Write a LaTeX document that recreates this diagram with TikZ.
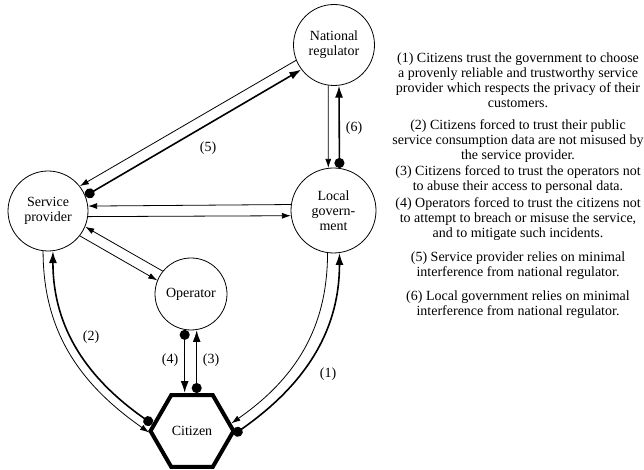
\documentclass[tikz,border=0pt]{standalone}
\usepackage{fontspec}
\setmainfont{Liberation Serif}
\usetikzlibrary{arrows.meta,shapes.geometric,calc}
\begin{document}
\begin{tikzpicture}[x=1pt,y=1pt,
  txt/.style={font=\fontsize{14}{14.8}\selectfont},
  party/.style={txt,circle,draw,line width=0.8pt,inner sep=0pt,align=center},
  thinlink/.style={draw,line width=0.8pt,-{Latex[length=9pt,width=6pt]}},
  boldlink/.style={draw,line width=1.6pt,{Circle[length=10pt]}-{Latex[length=12pt,width=8pt]}},
  para/.style={txt,align=center,anchor=base,inner sep=0pt}]
\useasboundingbox (0,0) rectangle (644,470);

% actors
\node[party,minimum size=81pt] (nr) at (334,425) {National\\regulator};
\node[party,minimum size=80pt] (sp) at (48,259) {Service\\provider};
\node[party,minimum size=85pt] (lg) at (333.5,259.5) {Local\\govern-\\ment};
\node[party,minimum size=72pt] (op) at (191,176) {Operator};
\node[txt,regular polygon,regular polygon sides=6,draw,line width=4pt,
      minimum size=83pt,inner sep=0pt] (cit) at (192,39) {Citizen};

% national regulator <-> service provider
\draw[thinlink] (nr.202.3) -- (sp.38);
\draw[boldlink] (sp.22.2) -- (nr.217.9);
% service provider <-> local government
\draw[thinlink] (lg.172.6) -- (sp.7.9);
\draw[thinlink] (sp.352.1) -- (lg.187.4);
% service provider <-> operator
\draw[thinlink] (op.141.1) -- (sp.337.8);
\draw[thinlink] (sp.322) -- (op.158.7);
% national regulator <-> local government
\draw[thinlink] (nr.262.2) -- (lg.97.4);
\draw[boldlink] (lg.82.6) -- (nr.277.8);
% operator <-> citizen
\draw[boldlink] (op.260.4) -- (op.260.4 |- cit.north);
\draw[boldlink] (cit.north -| op.279.6) -- (op.279.6);
% service provider <-> citizen
\draw[thinlink] (sp.263) to[out=-90,in=145] (cit.182);
\draw[boldlink] (cit.170) to[out=145,in=-90] (sp.277);
% local government <-> citizen
\draw[thinlink] (lg.262.6) to[out=-90,in=35] (cit.11);
\draw[boldlink] (cit.355) to[out=35,in=-90] (lg.278);

% relation numbers
\node[txt] (l1) at (328,96) {(1)};
\node[txt] (l2) at (91,133) {(2)};
\node[txt] (l3) at (211,110) {(3)};
\node[txt] (l4) at (170,110) {(4)};
\node[txt] (l5) at (208,322) {(5)};
\node[txt] (l6) at (354,342) {(6)};

% legend (each node sits on the baseline of its last line)
\node[para] (p1) at (518,362.6) {(1) Citizens trust the government to choose\\a provenly reliable and trustworthy service\\provider which respects the privacy of their\\customers.};
\node[para] (p2) at (518,310.4) {(2) Citizens forced to trust their public\\service consumption data are not misused by\\the service provider.};
\node[para] (p3) at (518,279.2) {(3) Citizens forced to trust the operators not\\to abuse their access to personal data.};
\node[para] (p4) at (518,232.4) {(4) Operators forced to trust the citizens not\\to attempt to breach or misuse the service,\\and to mitigate such incidents.};
\node[para] (p5) at (518,193.2) {(5) Service provider relies on minimal\\interference from national regulator.};
\node[para] (p6) at (518,154.2) {(6) Local government relies on minimal\\interference from national regulator.};
\end{tikzpicture}
\end{document}
